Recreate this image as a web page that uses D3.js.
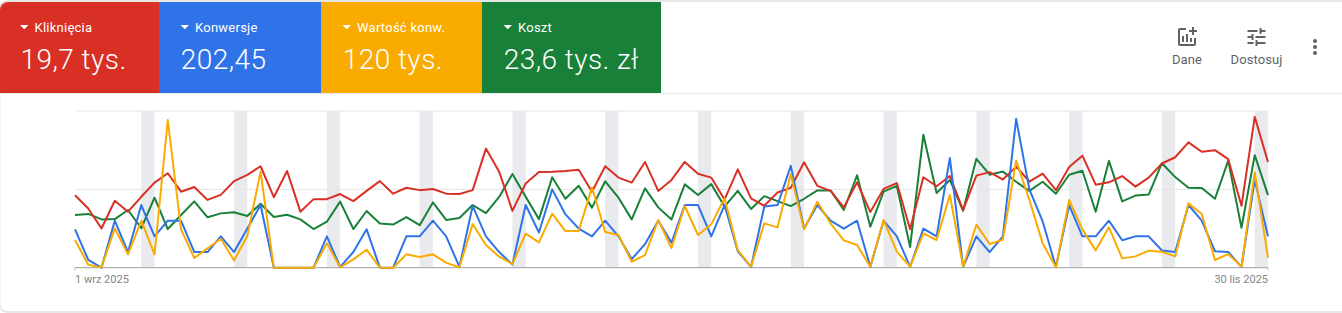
<!DOCTYPE html>
<html><head><meta charset="utf-8">
<script src="https://cdn.jsdelivr.net/npm/d3@7"></script>
<style>html,body{margin:0;padding:0;background:#fff}svg{display:block}text{font-family:Roboto,sans-serif}</style>
</head><body><div id="chart"></div>
<script>
const metricNames = ["Kliknięcia","Konwersje","Wartość konw.","Koszt"];
const metricTotals = ["19,7 tys.","202,45","120 tys.","23,6 tys. zł"];
const metricColors = ["#d93025","#3073e8","#f9ab00","#188038"];
const dateLabels = ["1 wrz 2025","30 lis 2025"];
const toolLabels = ["Dane","Dostosuj"];
const dayCount = 91;
const weekendStarts = [5,12,19,26,33,40,47,54,61,68,75,82,89];

const clicks = [185,151,100,171,143,181,217,241,194,206,173,186,221,237,259,180,247,143,175,175,188,170,
196,221,189,204,198,201,189,188,198,304,245,145,215,244,245,247,250,194,259,230,217,270,
196,224,270,240,230,174,251,177,158,192,204,269,209,196,154,218,142,201,216,98,231,208,234,
147,235,244,225,258,220,240,198,257,286,212,218,234,207,230,266,282,320,296,300,277,158,385,270];
const conversions = [2.45,0.5,0,3,1,4,2,3,3,1,1,2,1,2.5,4,0,0,0,0,2,0.05,1,
2.45,0,0,2,2,3,2,0.05,3.95,2,1,0.2,4,2.25,5,3.4,2.5,2,3,2,0.55,1.5,
3,1.6,4,4,2,4,1.05,0.05,3.9,4,6.5,2.5,4,3,2.5,3,0.05,3,2,0.05,2.5,2,7,
0.05,2,1,2,9.5,5,2.95,0.05,4,2,2,3,1.75,2,2,1.1,1,4,3,1.05,1,0.05,5.6,2];
const convValue = [1060,115,13,1506,511,1800,511,5655,1468,370,740,1111,281,1213,3677,0,0,0,0,932,13,319,
689,0,0,511,409,511,191,13,1672,868,421,140,1302,970,2068,1404,1404,3077,1366,1251,230,485,
1826,753,2362,1251,1660,2655,677,38,1698,1545,3587,1468,2528,1698,1047,868,38,1826,613,38,1315,1060,2783,
38,1647,906,1072,4098,2592,932,13,2592,1468,664,1545,357,434,651,613,434,2464,2055,294,523,38,3651,383];
const cost = [202,206,185,186,221,151,268,148,202,254,193,208,212,198,245,194,203,185,148,176,253,148,
217,169,165,194,163,250,183,190,240,209,271,359,272,186,346,264,314,230,331,268,185,304,
231,185,319,278,320,234,294,225,274,255,236,264,296,296,221,354,157,291,313,79,509,286,336,
218,417,356,368,329,294,329,283,356,371,214,409,254,276,280,400,347,306,305,264,410,153,431,278];
const seriesList = [clicks,conversions,convValue,cost];
const seriesMax = [400,10,6000,600];

const W=1342,H=313;
const plot={l:75,r:1268,t:111,b:267.7};
const svg=d3.select("#chart").append("svg").attr("width",W).attr("height",H);

// outer card
svg.append("defs").append("clipPath").attr("id","cardClip").append("rect")
  .attr("x",0).attr("y",2).attr("width",W+10).attr("height",309).attr("rx",8);
svg.append("rect").attr("x",-0.5).attr("y",1).attr("width",W+10).attr("height",311)
  .attr("rx",8).attr("fill","#fff").attr("stroke","#e0e0e0").attr("stroke-width",1.5);
svg.append("line").attr("x1",0).attr("x2",W).attr("y1",93.5).attr("y2",93.5).attr("stroke","#e8eaed");

// metric cards
const cardEdges=[0,159,321,482,661];
const cardInset=[0,1.5,1.5,1.5];
const cards=svg.append("g").attr("clip-path","url(#cardClip)")
  .selectAll("g.card").data(metricNames).join("g").attr("class","card")
  .attr("transform",(d,i)=>`translate(${cardEdges[i]},0)`);
cards.append("rect").attr("y",2).attr("height",91).attr("width",(d,i)=>cardEdges[i+1]-cardEdges[i])
  .attr("fill",(d,i)=>metricColors[i]);
cards.append("path").attr("d",(d,i)=>`M${20+cardInset[i]} 25h8.5l-4.25 4.25z`).attr("fill","#fff");
cards.append("text").attr("x",(d,i)=>34.5+cardInset[i]).attr("y",31.5).attr("font-size",13).attr("font-weight",400)
  .attr("letter-spacing",0.25).attr("fill","#fff").text(d=>d);
cards.append("text").attr("x",(d,i)=>20.5+cardInset[i]*0.8).attr("y",69).attr("font-size",28).attr("font-weight",300)
  .attr("letter-spacing",0.45).attr("fill","#fff").text((d,i)=>metricTotals[i]);

// toolbar
const iconColor="#5f6368";
const icons=["M22 5v2h-3v3h-2V7h-3V5h3V2h2v3h3zm-3 14H5V5h6V3H5c-1.1 0-2 .9-2 2v14c0 1.1.9 2 2 2h14c1.1 0 2-.9 2-2v-6h-2v6zm-4-6v4h2v-4h-2zm-4 4h2V9h-2v8zm-2 0v-6H7v6h2z",
"M3 17v2h6v-2H3zM3 5v2h10V5H3zm10 16v-2h8v-2h-8v-2h-2v6h2zM7 9v2H3v2h4v2h2V9H7zm14 4v-2H11v2h10zm-6-4h2V7h4V5h-4V3h-2v6z"];
const toolX=[1187,1256.5];
toolLabels.forEach((t,i)=>{
  svg.append("path").attr("d",icons[i]).attr("fill",iconColor).attr("transform",`translate(${toolX[i]-12},25)`);
  svg.append("text").attr("x",toolX[i]).attr("y",64).attr("text-anchor","middle").attr("font-size",13).attr("letter-spacing",0.1).attr("fill",iconColor).text(t);
});
[41,47,53].forEach(y=>svg.append("circle").attr("cx",1315).attr("cy",y).attr("r",2).attr("fill",iconColor));

// plot
const x=d3.scaleLinear().domain([0,dayCount-1]).range([plot.l,plot.r]);
const yUnit=d3.scaleLinear().domain([0,1]).range([plot.b,plot.t]);
svg.append("g").selectAll("rect").data(weekendStarts).join("rect")
  .attr("x",d=>x(d)).attr("width",d=>x(d+1)-x(d)).attr("y",plot.t).attr("height",plot.b-plot.t).attr("fill","#e8eaed");
svg.append("g").selectAll("line").data([0.5,1]).join("line")
  .attr("x1",plot.l).attr("x2",plot.r).attr("y1",d=>yUnit(d)).attr("y2",d=>yUnit(d)).attr("stroke","#e4e6e8");
svg.append("line").attr("x1",plot.l).attr("x2",plot.r).attr("y1",plot.b).attr("y2",plot.b).attr("stroke","#9aa0a6").attr("stroke-width",1);
[plot.l,plot.r].forEach(px=>svg.append("line").attr("x1",px).attr("x2",px).attr("y1",plot.b).attr("y2",plot.b+3).attr("stroke","#bdc1c6"));

[3,0,1,2].forEach(k=>{
  const y=d3.scaleLinear().domain([0,seriesMax[k]]).range([plot.b,plot.t]);
  const line=d3.line().x((d,i)=>x(i)).y(d=>y(d));
  svg.append("path").datum(seriesList[k]).attr("d",line).attr("fill","none")
    .attr("stroke",metricColors[k]).attr("stroke-width",2).attr("stroke-linejoin","round");
});

svg.append("text").attr("x",plot.l).attr("y",283).attr("font-size",11).attr("fill","#80868b").text(dateLabels[0]);
svg.append("text").attr("x",plot.r).attr("y",283).attr("text-anchor","end").attr("font-size",11).attr("fill","#80868b").text(dateLabels[1]);
</script></body></html>
